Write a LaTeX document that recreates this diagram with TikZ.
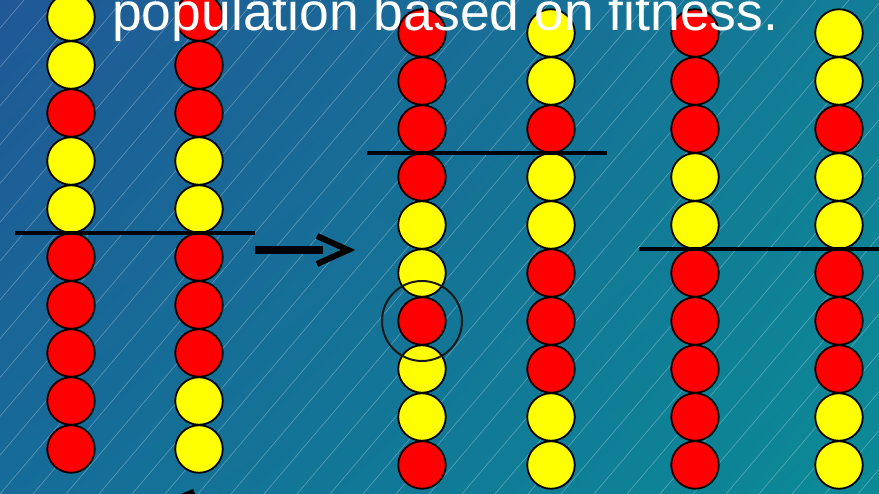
\documentclass[tikz,border=0pt]{standalone}
\usepackage{fontspec}
\setmainfont{Liberation Sans}
\usetikzlibrary{shadings}
\definecolor{bgUL}{RGB}{32,88,150}
\definecolor{bgUR}{RGB}{18,126,150}
\definecolor{bgLL}{RGB}{22,108,152}
\definecolor{bgLR}{RGB}{11,138,150}
\definecolor{geneR}{RGB}{255,0,0}
\definecolor{geneY}{RGB}{255,255,0}
\begin{document}
\begin{tikzpicture}[x=1pt,y=-1pt,
  gene/.style={circle, draw=black, line width=1.8pt, minimum size=47.5pt, inner sep=0pt},
  R/.style={gene, fill=geneR},
  Y/.style={gene, fill=geneY},
  cutline/.style={draw=black, line width=3.4pt},
  hatch/.style={draw=white, draw opacity=0.3, line width=0.6pt}]
\useasboundingbox (0,0) rectangle (879,494);
\shade[upper left=bgUL, upper right=bgUR, lower left=bgLL, lower right=bgLR] (0,0) rectangle (879,494);
\begin{scope}
\clip (0,0) rectangle (879,494);
\foreach \i in {-15,...,30} \draw[hatch] (\i*33,494) -- ++(420,-494);
\end{scope}
% columns of genes
\foreach \col/\x/\y/\list in {
  a/71/17/{Y,Y,R,Y,Y,R,R,R,R,R},
  b/199/17/{R,R,R,Y,Y,R,R,R,Y,Y},
  c/422/33/{R,R,R,R,Y,Y,R,Y,Y,R},
  d/551/33/{Y,Y,R,Y,Y,R,R,R,Y,Y},
  e/695/33/{R,R,R,Y,Y,R,R,R,R,R},
  f/839/33/{Y,Y,R,Y,Y,R,R,R,Y,Y}} {
  \foreach \c [count=\k from 0] in \list {
    \node[\c] (\col\k) at (\x,\y+48*\k) {};
  }
}
% crossover lines
\coordinate (l1a) at (15,233); \coordinate (l1b) at (255,233);
\coordinate (l2a) at (367,153); \coordinate (l2b) at (607,153);
\coordinate (l3a) at (639,249); \coordinate (l3b) at (879,249);
\draw[cutline] (l1a) -- (l1b);
\draw[cutline] (l2a) -- (l2b);
\draw[cutline] (l3a) -- (l3b);
% arrow
\coordinate (ar0) at (255,250); \coordinate (ar1) at (323,250);
\coordinate (ah1) at (317,236); \coordinate (ah2) at (348,250); \coordinate (ah3) at (317,264);
\draw[black, line width=8pt] (ar0) -- (ar1);
\draw[black, line width=6pt, miter limit=10] (ah1) -- (ah2) -- (ah3);
% mutation ring
\node[circle, draw=black!90, line width=2pt, minimum size=80pt, inner sep=0pt] (ring) at (c6) {};
% partial mark at bottom
\fill[black] (181,494) -- (193,489) -- (195,494) -- cycle;
% title
\node[anchor=base west, inner sep=0pt, text=white, font=\fontsize{53.5}{53.5}\selectfont] (title) at (112,31) {population based on fitness.};
\end{tikzpicture}
\end{document}
